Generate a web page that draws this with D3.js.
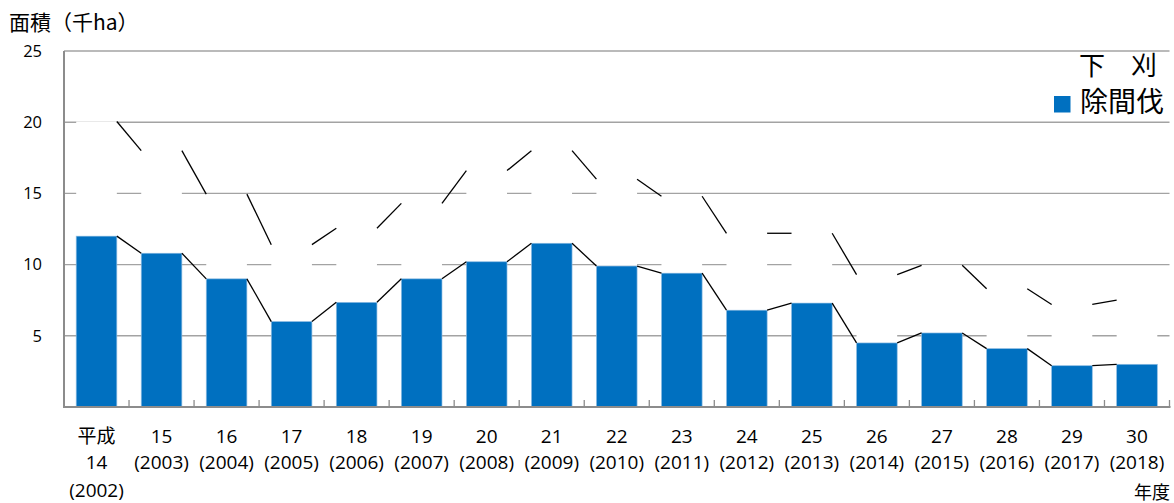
<!DOCTYPE html>
<html>
<head>
<meta charset="utf-8">
<script src="https://cdn.jsdelivr.net/npm/d3@7"></script>
<style>
  html, body { margin: 0; padding: 0; background: #fff; }
  svg { display: block; }
  text { font-family: "Open Sans", "Noto Sans CJK JP", sans-serif; fill: #000; }
  .cjk { font-family: "Noto Sans CJK JP", sans-serif; }
</style>
</head>
<body>
<svg id="chart" width="1174" height="503"></svg>
<script>
// ---- data ----
const eraLabels = ["14","15","16","17","18","19","20","21","22","23","24","25","26","27","28","29","30"];
const yearLabels = ["2002","2003","2004","2005","2006","2007","2008","2009","2010","2011","2012","2013","2014","2015","2016","2017","2018"];
const jokanbatsu = [12.0, 10.8, 9.0, 6.0, 7.35, 9.0, 10.2, 11.5, 9.9, 9.4, 6.8, 7.3, 4.5, 5.2, 4.1, 2.9, 3.0];
const shitagari  = [8.05, 7.2, 5.95, 5.4, 5.2, 5.3, 6.4, 6.5, 6.1, 5.4, 5.4, 4.9, 4.8, 4.75, 4.2, 4.3, 4.5];
const yTicks = [5, 10, 15, 20, 25];
const seriesNames = ["下\u3000刈", "除間伐"];
const yTitle = "面積（千ha）";
const xTitle = "年度";

// ---- layout ----
const svg = d3.select("#chart");
const plotLeft = 64, plotRight = 1169.5, plotTop = 51, plotBottom = 407;

const x = d3.scaleBand().domain(yearLabels).range([plotLeft, plotRight]).padding(0);
const y = d3.scaleLinear().domain([0, 25]).range([plotBottom, plotTop]);
const barW = x.bandwidth() / 1.6;
const off = (x.bandwidth() - barW) / 2;

const totals = jokanbatsu.map((v, i) => v + shitagari[i]);

// gridlines
svg.append("g").selectAll("line").data(yTicks).join("line")
  .attr("x1", plotLeft).attr("x2", plotRight)
  .attr("y1", d => y(d)).attr("y2", d => y(d))
  .attr("stroke", "#a3a3a3").attr("stroke-width", 1.4);

// 除間伐 bars (blue)
svg.append("g").selectAll("rect").data(jokanbatsu).join("rect")
  .attr("x", (d, i) => x(yearLabels[i]) + off)
  .attr("width", barW)
  .attr("y", d => y(d))
  .attr("height", d => y(0) - y(d))
  .attr("fill", "#0070c0")
  .attr("stroke", "#8fbde3").attr("stroke-width", 0.7);

// 下刈 bars (white, stacked)
svg.append("g").selectAll("rect").data(shitagari).join("rect")
  .attr("x", (d, i) => x(yearLabels[i]) + off)
  .attr("width", barW)
  .attr("y", (d, i) => y(totals[i]))
  .attr("height", (d, i) => y(jokanbatsu[i]) - y(totals[i]) - 0.8)
  .attr("fill", "#ffffff");

// series lines
function seriesLines(vals) {
  const segs = [];
  for (let i = 0; i < vals.length - 1; i++) {
    segs.push({
      x1: x(yearLabels[i]) + off + barW, y1: y(vals[i]),
      x2: x(yearLabels[i + 1]) + off,   y2: y(vals[i + 1])
    });
  }
  return segs;
}
const gLines = svg.append("g");
[jokanbatsu, totals].forEach(vals => {
  gLines.append("g").selectAll("line").data(seriesLines(vals)).join("line")
    .attr("x1", d => d.x1).attr("y1", d => d.y1)
    .attr("x2", d => d.x2).attr("y2", d => d.y2)
    .attr("stroke", "#000").attr("stroke-width", 1.3);
});

// axes
svg.append("line").attr("x1", plotLeft).attr("x2", plotLeft)
  .attr("y1", plotTop).attr("y2", plotBottom + 1)
  .attr("stroke", "#8c8c8c").attr("stroke-width", 2);
svg.append("line").attr("x1", plotLeft - 1).attr("x2", plotRight + 1)
  .attr("y1", plotBottom).attr("y2", plotBottom)
  .attr("stroke", "#8c8c8c").attr("stroke-width", 2);

// x tick marks (category boundaries, pointing up)
const boundaries = yearLabels.slice(1).map(d => x(d)).concat([plotRight]);
svg.append("g").selectAll("line").data(boundaries).join("line")
  .attr("x1", d => d).attr("x2", d => d)
  .attr("y1", plotBottom).attr("y2", plotBottom - 7)
  .attr("stroke", "#8c8c8c").attr("stroke-width", 1.3);

// y tick labels
svg.append("g").selectAll("text").data(yTicks).join("text")
  .attr("x", 42).attr("y", d => y(d) + 5.8)
  .attr("text-anchor", "end")
  .attr("font-size", 16.5)
  .text(d => d);

// x labels
const gx = svg.append("g");
yearLabels.forEach((yr, i) => {
  const cx = x(yr) + x.bandwidth() / 2;
  const lines = i === 0 ? ["平成", eraLabels[i], "(" + yr + ")"] : [eraLabels[i], "(" + yr + ")"];
  const ys = [443, 469, 497];
  lines.forEach((t, j) => {
    gx.append("text").attr("x", cx).attr("y", ys[j])
      .attr("text-anchor", "middle").attr("font-size", 19)
      .attr("class", /[\u4e00-\u9fff]/.test(t) ? "cjk" : null)
      .text(t);
  });
});

// titles
svg.append("text").attr("class", "cjk").attr("x", 9).attr("y", 30)
  .attr("font-size", 21).text(yTitle);
svg.append("text").attr("class", "cjk").attr("x", 1134).attr("y", 499)
  .attr("font-size", 18).text(xTitle);

// legend
svg.append("text").attr("class", "cjk").attr("x", 1079).attr("y", 75)
  .attr("font-size", 26).text(seriesNames[0]);
svg.append("rect").attr("x", 1054).attr("y", 96).attr("width", 16.5).attr("height", 16.5)
  .attr("fill", "#0070c0");
svg.append("text").attr("class", "cjk").attr("x", 1080).attr("y", 112)
  .attr("font-size", 28).text(seriesNames[1]);
</script>
</body>
</html>
